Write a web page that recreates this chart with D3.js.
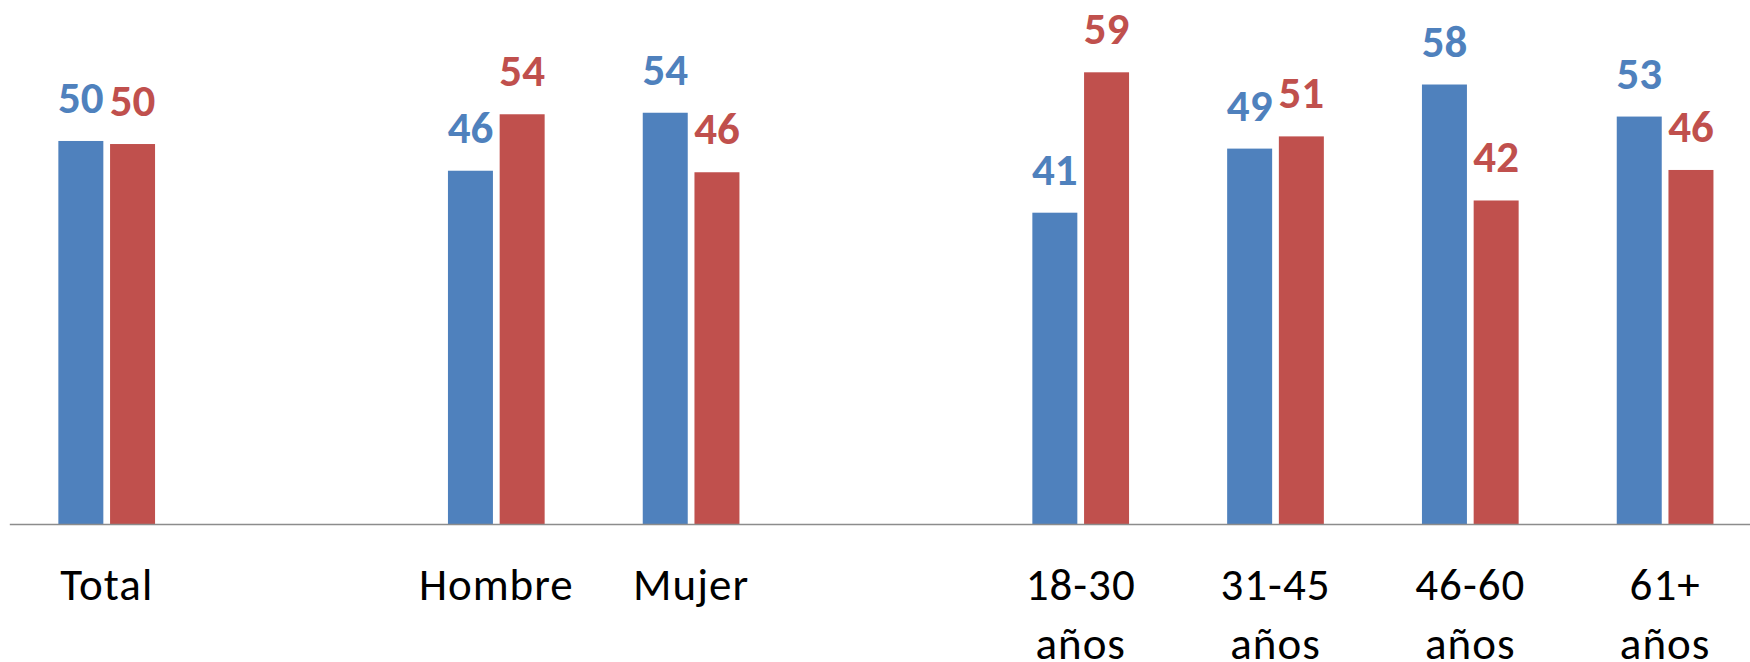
<!DOCTYPE html>
<html>
<head>
<meta charset="utf-8">
<script src="https://cdn.jsdelivr.net/npm/d3@7"></script>
<style>
  body { margin: 0; background: #fff; }
  text { font-family: Carlito, Calibri, Lato, "Open Sans", sans-serif; }
</style>
</head>
<body>
<div id="chart"></div>
<script>

//~~~~~~~~~~~~~~~~~~DATA
// the empty categories are blank rows in the sheet, they leave a gap
let categories = ['Total', '', 'Hombre', 'Mujer', '', '18-30 años', '31-45 años', '46-60 años', '61+ años'];
let serieAzul = [50.2, null, 46.3, 53.9, null, 40.8, 49.2, 57.6, 53.4];
let serieRoja = [49.8, null, 53.7, 46.1, null, 59.2, 50.8, 42.4, 46.4];
let seriesNames = ['azul', 'roja'];
let seriesColors = ['#4F81BD', '#C0504D'];

//~~~~~~~~~~~~~~~~~~VARIABLES
let width = 1750;
let height = 662;
let baseY = 524;

let svg = d3.select('#chart')
  .append('svg')
  .attr('width', width)
  .attr('height', height);

// one slot per category, the last one runs past the right edge
let x = d3.scaleBand()
  .domain(d3.range(categories.length))
  .range([9.3, 1762.5])
  .padding(0);

// two bars inside each slot
let xInner = d3.scaleBand()
  .domain(seriesNames)
  .range([-48.35, 48.35])
  .paddingInner(0.13);

let y = d3.scaleLinear()
  .domain([0, 60])
  .range([baseY, baseY - 60 * 7.63]);

let color = d3.scaleOrdinal()
  .domain(seriesNames)
  .range(seriesColors);

// flatten into one row per bar
let rows = [];
categories.forEach(function(c, i) {
  [serieAzul, serieRoja].forEach(function(s, k) {
    if (s[i] != null) {
      rows.push({ slot: i, serie: seriesNames[k], value: s[i] });
    }
  });
});

function barX(d) {
  return x(d.slot) + x.bandwidth() / 2 + xInner(d.serie);
}

//~~~~~~~~~~~~~~~~~~BARS
svg.selectAll('rect.bar')
  .data(rows)
  .enter()
  .append('rect')
  .attr('class', 'bar')
  .attr('x', barX)
  .attr('width', xInner.bandwidth())
  .attr('y', function(d) { return y(d.value); })
  .attr('height', function(d) { return y(0) - y(d.value); })
  .attr('fill', function(d) { return color(d.serie); });

//~~~~~~~~~~~~~~~~~~VALUE LABELS
let fmt = d3.format('.0f');
svg.selectAll('text.value')
  .data(rows)
  .enter()
  .append('text')
  .attr('class', 'value')
  .attr('x', function(d) { return barX(d) + xInner.bandwidth() / 2; })
  .attr('y', function(d) { return y(d.value) - 28; })
  .attr('text-anchor', 'middle')
  .style('font-size', '45px')
  .style('font-weight', 'bold')
  .style('fill', function(d) { return color(d.serie); })
  .text(function(d) { return fmt(d.value); });

//~~~~~~~~~~~~~~~~~~AXIS
let axis = svg.append('g')
  .attr('transform', 'translate(0,' + baseY + ')')
  .call(d3.axisBottom(x)
    .tickSize(0)
    .tickSizeOuter(0)
    .tickFormat(function(i) { return categories[i]; }));

axis.select('.domain')
  .attr('stroke', '#8c8c8c')
  .attr('stroke-width', 1.7);

// category labels wrap onto a second line
axis.selectAll('.tick text')
  .attr('y', 76)
  .attr('dy', null)
  .style('font-size', '45px')
  .style('letter-spacing', '1px')
  .style('fill', '#000')
  .each(function(i) {
    let words = categories[i].split(' ');
    let t = d3.select(this).text(null);
    words.forEach(function(w, j) {
      t.append('tspan')
        .attr('x', 0)
        .attr('dy', j === 0 ? 0 : 59)
        .text(w);
    });
  });

</script>
</body>
</html>
